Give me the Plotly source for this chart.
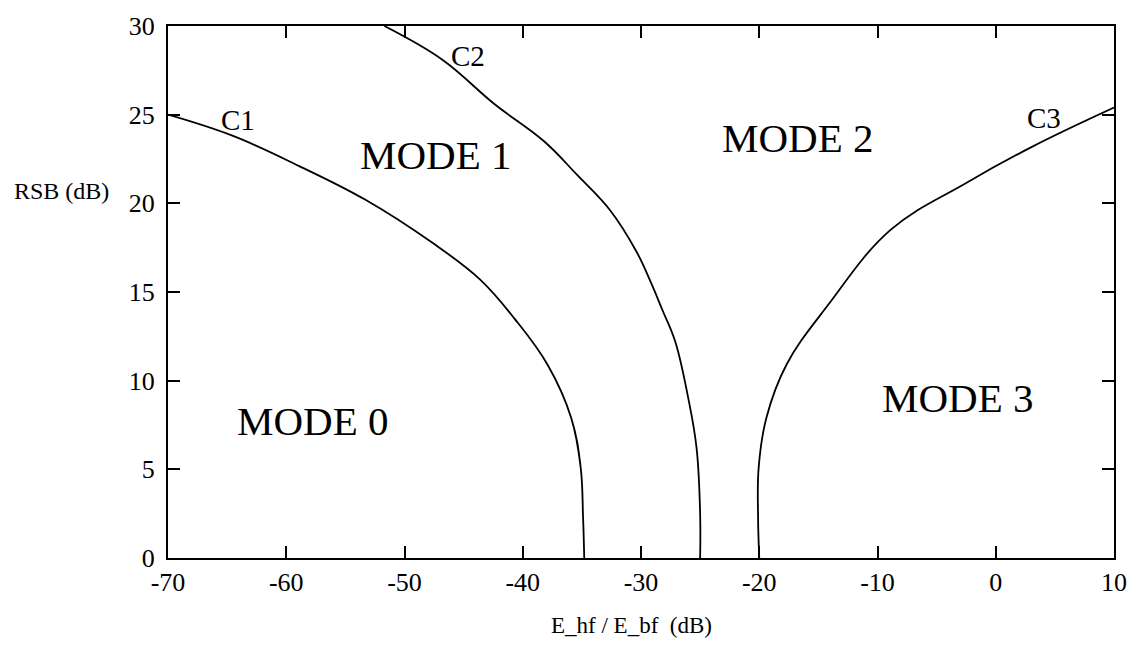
import plotly.graph_objects as go

# Boundary curves between the operating modes
c1_x = [-70, -64.5, -58.9, -53.3, -47.7, -43.6, -40.7, -37.9, -35.9, -35.1, -34.9, -34.8]
c1_y = [25, 23.8, 22.1, 20.2, 17.8, 15.7, 13.5, 10.9, 7.9, 5.1, 2.3, 0]

c2_x = [-51.7, -46.8, -42.4, -38.2, -35.4, -32.6, -30.4, -29.2, -28.2, -27.1, -26.0, -25.3, -25.0, -25.0]
c2_y = [30, 28.1, 25.6, 23.5, 21.6, 19.6, 17.3, 15.6, 14.0, 12.2, 9.0, 6.2, 2.5, 0]

c3_x = [-20.0, -20.1, -20.05, -19.4, -17.7, -14.2, -8.9, -2.5, 3.1, 10]
c3_y = [0, 2.3, 5.1, 7.9, 10.9, 14.25, 18.5, 21.15, 23.2, 25.4]

# Text placed in the plot
curve_labels = ["C1", "C2", "C3"]
curve_label_x = [-64.1, -44.6, 4.1]
curve_label_y = [24.7, 28.3, 24.8]

mode_labels = ["MODE 0", "MODE 1", "MODE 2", "MODE 3"]
mode_label_x = [-57.8, -47.4, -16.8, -3.2]
mode_label_y = [7.7, 22.7, 23.7, 9.0]

x_ticks = [-70, -60, -50, -40, -30, -20, -10, 0, 10]
x_tick_text = ["-70", "-60", "-50", "-40", "-30", "-20", "-10", "0", "10"]
y_ticks = [0, 5, 10, 15, 20, 25, 30]
y_tick_text = ["0", "5", "10", "15", "20", "25", "30"]

FONT = "Liberation Serif, Times New Roman, serif"

fig = go.Figure()
for xs, ys in [(c1_x, c1_y), (c2_x, c2_y), (c3_x, c3_y)]:
    fig.add_trace(go.Scatter(
        x=xs, y=ys, mode="lines",
        line=dict(color="black", width=1.8, shape="spline", smoothing=1.1),
        showlegend=False, hoverinfo="skip",
    ))

annotations = []
for t, x, y in zip(curve_labels, curve_label_x, curve_label_y):
    annotations.append(dict(x=x, y=y, text=t, showarrow=False,
                            font=dict(family=FONT, size=29, color="black")))
for t, x, y in zip(mode_labels, mode_label_x, mode_label_y):
    annotations.append(dict(x=x, y=y, text=t, showarrow=False,
                            font=dict(family=FONT, size=41, color="black")))

annotations.append(dict(xref="paper", yref="paper", x=-0.113, y=0.69,
                        xanchor="center", yanchor="middle",
                        text="RSB (dB)", showarrow=False,
                        font=dict(family=FONT, size=24, color="black")))
annotations.append(dict(xref="paper", yref="paper", x=0.4895, y=-0.127,
                        xanchor="center", yanchor="middle",
                        text="E_hf / E_bf&nbsp;&nbsp;(dB)", showarrow=False,
                        font=dict(family=FONT, size=23, color="black")))

axis_common = dict(
    showline=True, linecolor="black", linewidth=2, mirror="ticks",
    ticks="inside", ticklen=12, tickwidth=1.5, tickcolor="black",
    showgrid=False, zeroline=False,
    tickfont=dict(family=FONT, size=26, color="black"),
)

fig.update_layout(
    width=1139, height=647,
    margin=dict(l=168, r=19, t=22, b=89),
    paper_bgcolor="white", plot_bgcolor="white",
    xaxis=dict(range=[-70, 10], tickvals=x_ticks, ticktext=x_tick_text,
               ticklabelstandoff=0, **axis_common),
    yaxis=dict(range=[0, 30], tickvals=y_ticks, ticktext=y_tick_text,
               ticklabelstandoff=6, **axis_common),
    annotations=annotations,
)

fig.write_html("out.html")
